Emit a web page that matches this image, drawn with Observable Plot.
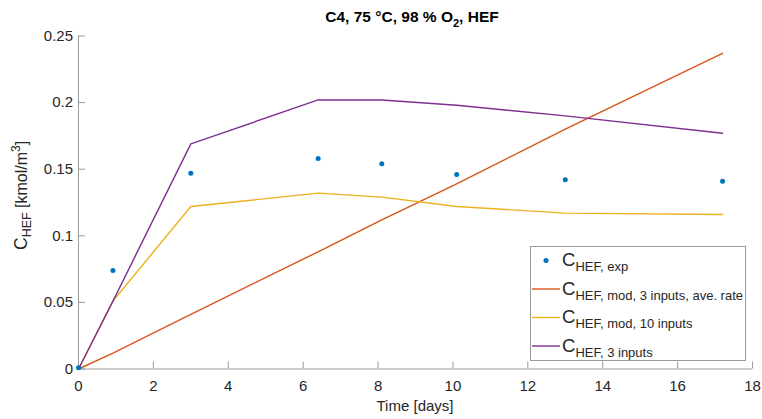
<!DOCTYPE html>
<html>
<head>
<meta charset="utf-8">
<script src="https://cdn.jsdelivr.net/npm/d3@7"></script>
<script src="https://cdn.jsdelivr.net/npm/@observablehq/plot@0.6"></script>
<style>
  html, body { margin: 0; padding: 0; background: #fff; }
  svg { display: block; }
</style>
</head>
<body>
<div id="chart"></div>
<script>
// ---- data ----
const timeDays   = [0, 0.92, 3.0, 6.4, 8.1, 10.1, 13.0, 17.2];
const cHefExp    = [0.001, 0.074, 0.147, 0.158, 0.154, 0.146, 0.142, 0.141];
const cHefMod3Ave = [0, 0.012, 0.041, 0.088, 0.112, 0.139, 0.180, 0.237];
const cHefMod10  = [0, 0.051, 0.122, 0.132, 0.129, 0.122, 0.117, 0.116];
const cHef3In    = [0, 0.051, 0.169, 0.202, 0.202, 0.198, 0.190, 0.177];

const xTicks = [0, 2, 4, 6, 8, 10, 12, 14, 16, 18];
const yTicks = [0, 0.05, 0.1, 0.15, 0.2, 0.25];
const yTickLabels = ["0", "0.05", "0.1", "0.15", "0.2", "0.25"];

const seriesNames = ["HEF, exp", "HEF, mod, 3 inputs, ave. rate", "HEF, mod, 10 inputs", "HEF, 3 inputs"];
const seriesColors = ["#0072BD", "#D95319", "#EDB120", "#7E2F8E"];

// ---- layout ----
const W = 762, H = 419;
const mL = 78, mR = 10, mT = 35.5, mB = 50.5;
const frameW = W - mL - mR, frameH = H - mT - mB;
const axisColor = "#9a9a9a";
const textColor = "#262626";
const font = "'Liberation Sans', Arial, Helvetica, sans-serif";

const rows = (ys) => timeDays.map((t, i) => ({t, c: ys[i]}));

const plot = Plot.plot({
  width: W, height: H,
  marginLeft: mL, marginRight: mR, marginTop: mT, marginBottom: mB,
  style: {fontFamily: font, fontSize: "15px", color: textColor, background: "#fff", overflow: "visible"},
  x: {domain: [0, 18]},
  y: {domain: [0, 0.25]},
  marks: [
    Plot.axisX({ticks: xTicks, tickSize: 0, tickPadding: 11, label: null, fontSize: 15, fill: textColor}),
    Plot.axisY({ticks: yTicks, tickSize: 0, tickPadding: 5.5, label: null, fontSize: 15, fill: textColor,
      tickFormat: (d) => yTickLabels[yTicks.indexOf(d)]}),
    Plot.ruleX([0], {stroke: axisColor, strokeWidth: 1}),
    Plot.ruleY([0], {stroke: axisColor, strokeWidth: 1}),
    Plot.tickX(xTicks, {x: (d) => d, insetTop: frameH - 7, stroke: axisColor, strokeWidth: 1}),
    Plot.tickY(yTicks, {y: (d) => d, insetRight: frameW - 7, stroke: axisColor, strokeWidth: 1}),
    Plot.line(rows(cHefMod3Ave), {x: "t", y: "c", stroke: seriesColors[1], strokeWidth: 1.4}),
    Plot.line(rows(cHefMod10), {x: "t", y: "c", stroke: seriesColors[2], strokeWidth: 1.4}),
    Plot.line(rows(cHef3In), {x: "t", y: "c", stroke: seriesColors[3], strokeWidth: 1.4}),
    Plot.dot(rows(cHefExp), {x: "t", y: "c", r: 2.5, fill: seriesColors[0], stroke: "none"})
  ]
});

document.getElementById("chart").appendChild(plot);
const svg = d3.select(plot);

// ---- title ----
const title = svg.append("text")
  .attr("x", 412).attr("y", 21.5)
  .attr("text-anchor", "middle")
  .attr("font-family", font).attr("font-weight", "bold").attr("font-size", 15.5)
  .attr("fill", "#000");
title.append("tspan").text("C4, 75 \u00B0C, 98 % O");
title.append("tspan").attr("font-size", 11).attr("dy", 5).text("2");
title.append("tspan").attr("dy", -5).text(", HEF");

// ---- x label ----
svg.append("text")
  .attr("x", 415).attr("y", 411)
  .attr("text-anchor", "middle")
  .attr("font-family", font).attr("font-size", 15).attr("fill", textColor)
  .text("Time [days]");

// ---- y label ----
const yl = svg.append("text")
  .attr("transform", "translate(26.5,250) rotate(-90)")
  .attr("text-anchor", "start")
  .attr("font-family", font).attr("font-size", 17.5).attr("fill", textColor);
yl.append("tspan").text("C");
yl.append("tspan").attr("font-size", 12.5).attr("dy", 4.5).text("HEF");
yl.append("tspan").attr("font-size", 16).attr("dy", -4.5).text(" [kmol/m");
yl.append("tspan").attr("font-size", 12).attr("dy", -6.5).text("3");
yl.append("tspan").attr("font-size", 16).attr("dy", 6.5).text("]");

// ---- legend ----
const lg = svg.append("g").attr("text-anchor", "start");
lg.append("rect")
  .attr("x", 530.5).attr("y", 246.5).attr("width", 215).attr("height", 114)
  .attr("fill", "#fff").attr("stroke", axisColor).attr("stroke-width", 1);
const rowY = [260.5, 289, 317.5, 346];
seriesNames.forEach((name, i) => {
  const y = rowY[i];
  if (i === 0) {
    lg.append("circle").attr("cx", 546).attr("cy", y).attr("r", 2.5).attr("fill", seriesColors[0]);
  } else {
    lg.append("line").attr("x1", 532).attr("x2", 560).attr("y1", y).attr("y2", y)
      .attr("stroke", seriesColors[i]).attr("stroke-width", 1.4);
  }
  const t = lg.append("text")
    .attr("x", 562).attr("y", y + 5.5)
    .attr("text-anchor", "start")
    .attr("font-family", font).attr("fill", textColor);
  t.append("tspan").attr("font-size", 18.5).text("C");
  t.append("tspan").attr("font-size", 13).attr("dy", 5).text(name);
});
</script>
</body>
</html>
